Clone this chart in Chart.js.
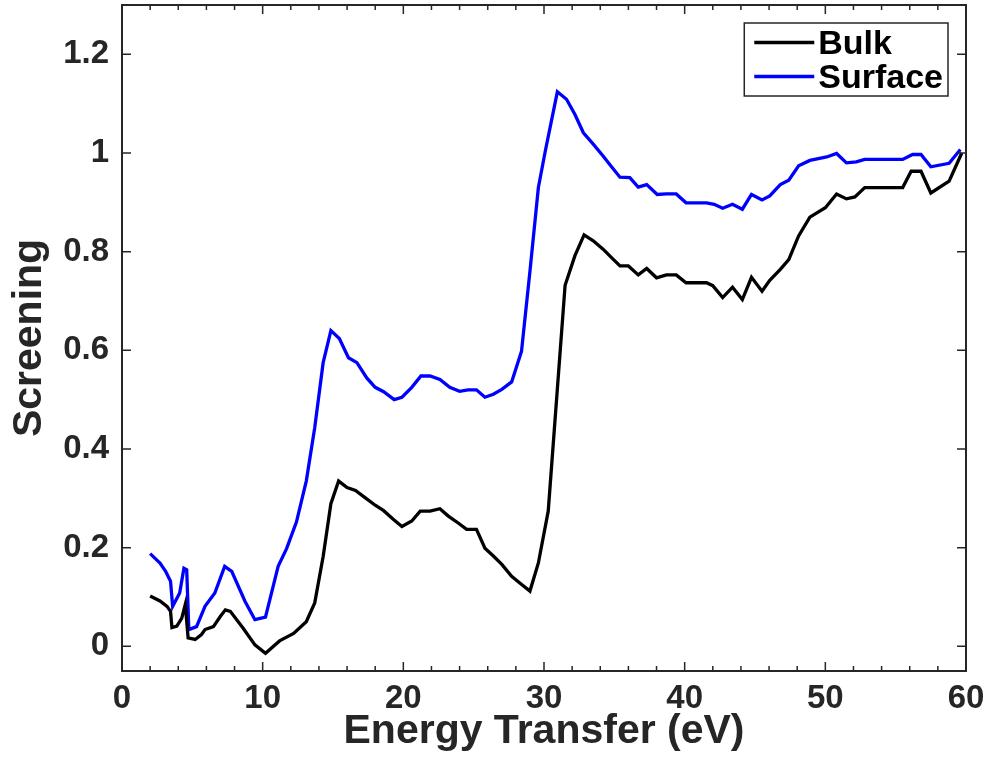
<!DOCTYPE html>
<html>
<head>
<meta charset="utf-8">
<script src="https://cdn.jsdelivr.net/npm/chart.js@4.4.1/dist/chart.umd.min.js"></script>
<style>
  html, body { margin: 0; padding: 0; background: #ffffff; }
  #wrap { width: 992px; height: 766px; }
</style>
</head>
<body>
<div id="wrap"><canvas id="c" width="992" height="766"></canvas></div>
<script>
// Screening vs. energy transfer for the bulk and surface responses
const bulkEnergy = [2.0, 2.7, 3.2, 3.45, 3.55, 3.9, 4.25, 4.5, 4.7, 5.2, 5.65, 5.9, 6.5, 7.0, 7.35, 7.7, 8.6, 9.45, 10.2, 11.2,
  12.2, 13.1, 13.7, 14.3, 14.85, 15.4, 16.0, 16.6, 17.3, 18.0, 18.6, 19.3, 19.9, 20.6, 21.2, 21.9, 22.6, 23.2, 23.9, 24.5,
  25.2, 25.8, 26.4, 27.0, 27.7, 28.3, 29.0, 29.6, 30.3, 31.5, 32.2, 32.85, 33.5, 34.2, 34.8, 35.4, 36.0, 36.7, 37.3, 38.0,
  38.7, 39.4, 40.1, 40.85, 41.55, 42.0, 42.7, 43.4, 44.1, 44.75, 45.5, 46.05, 46.8, 47.4, 48.1, 48.9, 50.0, 50.8, 51.5, 52.1,
  52.8, 55.5, 56.1, 56.8, 57.5, 58.8, 59.7];
const bulkScreening = [0.102, 0.092, 0.081, 0.071, 0.038, 0.041, 0.057, 0.085, 0.017, 0.014, 0.024, 0.034, 0.040, 0.061, 0.074, 0.071, 0.037, 0.003, -0.014, 0.011,
  0.026, 0.050, 0.088, 0.182, 0.289, 0.335, 0.322, 0.316, 0.301, 0.286, 0.275, 0.257, 0.243, 0.254, 0.274, 0.274, 0.279, 0.264, 0.250, 0.237,
  0.237, 0.199, 0.183, 0.166, 0.142, 0.128, 0.112, 0.169, 0.274, 0.732, 0.792, 0.834, 0.822, 0.805, 0.788, 0.771, 0.771, 0.753, 0.766, 0.747,
  0.753, 0.753, 0.737, 0.737, 0.737, 0.731, 0.707, 0.728, 0.703, 0.748, 0.720, 0.742, 0.764, 0.784, 0.832, 0.870, 0.889, 0.917, 0.907, 0.911,
  0.930, 0.930, 0.963, 0.963, 0.919, 0.943, 1.000];

const surfaceEnergy = [2.0, 2.7, 3.1, 3.45, 3.6, 4.1, 4.4, 4.6, 4.75, 5.3, 5.9, 6.6, 7.3, 7.8, 8.75, 9.45, 10.2, 11.1, 11.7, 12.4,
  13.1, 13.7, 14.3, 14.85, 15.45, 16.1, 16.7, 17.4, 18.0, 18.6, 19.35, 19.9, 20.6, 21.25, 21.9, 22.6, 23.3, 24.0, 24.6, 25.2,
  25.8, 26.4, 27.0, 27.7, 28.4, 29.0, 29.6, 30.1, 30.95, 31.6, 32.2, 32.8, 33.5, 34.2, 34.8, 35.4, 36.1, 36.7, 37.3, 38.05,
  38.7, 39.4, 40.1, 40.85, 41.55, 42.1, 42.7, 43.4, 44.1, 44.75, 45.5, 46.05, 46.8, 47.4, 48.1, 48.9, 50.1, 50.8, 51.5, 52.2,
  52.8, 55.5, 56.2, 56.8, 57.5, 58.8, 59.6];
const surfaceScreening = [0.188, 0.169, 0.152, 0.132, 0.081, 0.108, 0.158, 0.155, 0.034, 0.040, 0.081, 0.108, 0.162, 0.152, 0.091, 0.054, 0.059, 0.162, 0.198, 0.252,
  0.335, 0.443, 0.575, 0.640, 0.624, 0.585, 0.575, 0.544, 0.525, 0.516, 0.500, 0.505, 0.525, 0.548, 0.548, 0.541, 0.525, 0.517, 0.520, 0.520,
  0.505, 0.511, 0.521, 0.536, 0.598, 0.760, 0.930, 1.005, 1.124, 1.109, 1.078, 1.041, 1.018, 0.994, 0.972, 0.951, 0.950, 0.931, 0.936, 0.916,
  0.917, 0.917, 0.899, 0.899, 0.899, 0.896, 0.888, 0.896, 0.886, 0.916, 0.905, 0.913, 0.936, 0.945, 0.974, 0.985, 0.992, 0.999, 0.980, 0.982,
  0.987, 0.987, 0.997, 0.997, 0.972, 0.979, 1.007];

const seriesNames = ['Bulk', 'Surface'];
const xTickValues = [0, 10, 20, 30, 40, 50, 60];
const yTickValues = [0, 0.2, 0.4, 0.6, 0.8, 1, 1.2];
const xAxisTitle = 'Energy Transfer (eV)';
const yAxisTitle = 'Screening';

const FONT = "'Liberation Sans', Arial, Helvetica, sans-serif";
const AXIS_COLOR = '#262626';
const LINE_COLORS = ['#000000', '#0000ff'];

const toPoints = (xs, ys) => xs.map((x, i) => ({ x: x, y: ys[i] }));

// Boxed axes with inward ticks on all four sides; minor x ticks every 2 eV
const boxedAxes = {
  id: 'boxedAxes',
  afterDatasetsDraw(chart) {
    const { ctx, chartArea: a, scales: { x, y } } = chart;
    ctx.save();
    ctx.strokeStyle = AXIS_COLOR;
    ctx.lineWidth = 1.5;
    ctx.beginPath();
    for (let v = x.min; v <= x.max + 1e-9; v += 2) {
      const px = x.getPixelForValue(v);
      const len = xTickValues.includes(v) ? 9 : 5;
      ctx.moveTo(px, a.bottom); ctx.lineTo(px, a.bottom - len);
      ctx.moveTo(px, a.top); ctx.lineTo(px, a.top + len);
    }
    for (const v of yTickValues) {
      const py = y.getPixelForValue(v);
      ctx.moveTo(a.left, py); ctx.lineTo(a.left + 9, py);
      ctx.moveTo(a.right, py); ctx.lineTo(a.right - 9, py);
    }
    ctx.stroke();
    ctx.lineWidth = 2;
    ctx.strokeRect(a.left, a.top, a.right - a.left, a.bottom - a.top);
    ctx.restore();
  }
};

// Boxed legend in the upper right corner of the plot area
const cornerLegend = {
  id: 'cornerLegend',
  afterDraw(chart) {
    const { ctx, chartArea: a } = chart;
    const sets = chart.data.datasets;
    ctx.save();
    ctx.font = 'bold 34px ' + FONT;
    const textW = Math.max(...sets.map(d => ctx.measureText(d.label).width));
    const lineLen = 60, padL = 10, gap = 4, padR = 5, rowH = 34;
    const boxW = padL + lineLen + gap + textW + padR;
    const boxH = 73;
    const right = a.right - 18;
    const left = right - boxW;
    const top = a.top + 18;
    ctx.fillStyle = '#ffffff';
    ctx.fillRect(left, top, boxW, boxH);
    ctx.strokeStyle = AXIS_COLOR;
    ctx.lineWidth = 1.5;
    ctx.strokeRect(left, top, boxW, boxH);
    sets.forEach((d, i) => {
      const cy = top + 19.5 + i * rowH;
      ctx.strokeStyle = d.borderColor;
      ctx.lineWidth = 3.3;
      ctx.beginPath();
      ctx.moveTo(left + padL, cy);
      ctx.lineTo(left + padL + lineLen, cy);
      ctx.stroke();
      ctx.fillStyle = '#000000';
      ctx.textAlign = 'left';
      ctx.textBaseline = 'alphabetic';
      ctx.fillText(d.label, left + padL + lineLen + gap, cy + 11);
    });
    ctx.restore();
  }
};

new Chart(document.getElementById('c'), {
  type: 'line',
  data: {
    datasets: [
      {
        label: seriesNames[0],
        data: toPoints(bulkEnergy, bulkScreening),
        borderColor: LINE_COLORS[0],
        backgroundColor: LINE_COLORS[0],
        borderWidth: 3.3,
        pointRadius: 0,
        tension: 0,
        fill: false
      },
      {
        label: seriesNames[1],
        data: toPoints(surfaceEnergy, surfaceScreening),
        borderColor: LINE_COLORS[1],
        backgroundColor: LINE_COLORS[1],
        borderWidth: 3.3,
        pointRadius: 0,
        tension: 0,
        fill: false
      }
    ]
  },
  options: {
    responsive: false,
    animation: false,
    events: [],
    layout: { padding: { top: 5, right: 26, left: 0, bottom: 0 } },
    plugins: {
      legend: { display: false },
      tooltip: { enabled: false }
    },
    scales: {
      x: {
        type: 'linear',
        min: 0,
        max: 60,
        grid: { display: false, drawTicks: false },
        border: { display: false },
        afterBuildTicks: s => { s.ticks = xTickValues.map(v => ({ value: v })); },
        afterFit: s => { s.height = 95; s.paddingLeft = 0; s.paddingRight = 0; },
        ticks: {
          autoSkip: false,
          maxRotation: 0,
          padding: 8,
          color: AXIS_COLOR,
          font: { family: FONT, size: 33, weight: 'bold' },
          callback: v => String(v)
        },
        title: {
          display: true,
          text: xAxisTitle,
          color: AXIS_COLOR,
          font: { family: FONT, size: 41, weight: 'bold' },
          padding: { top: 0, bottom: 10 }
        }
      },
      y: {
        type: 'linear',
        min: -0.05,
        max: 1.3,
        grid: { display: false, drawTicks: false },
        border: { display: false },
        afterBuildTicks: s => { s.ticks = yTickValues.map(v => ({ value: v })); },
        afterFit: s => { s.width = 122; s.paddingTop = 0; s.paddingBottom = 0; },
        ticks: {
          autoSkip: false,
          padding: 13,
          color: AXIS_COLOR,
          font: { family: FONT, size: 33, weight: 'bold' },
          callback: v => String(Math.round(v * 10) / 10)
        },
        title: {
          display: true,
          text: yAxisTitle,
          color: AXIS_COLOR,
          font: { family: FONT, size: 41, weight: 'bold' },
          padding: { top: 5, bottom: 0 }
        }
      }
    }
  },
  plugins: [boxedAxes, cornerLegend]
});
</script>
</body>
</html>
